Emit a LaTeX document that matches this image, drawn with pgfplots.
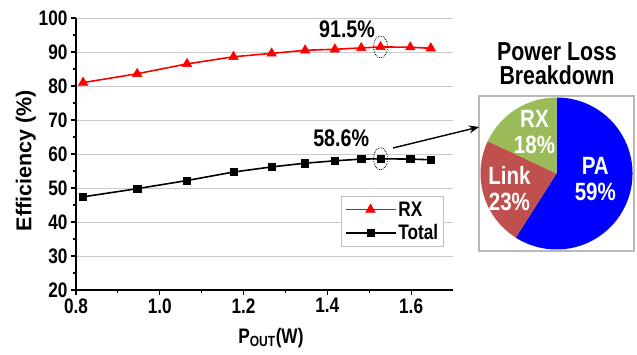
\documentclass[border=0pt]{standalone}
\usepackage{fontspec}
\setmainfont{Liberation Sans}[FakeStretch=0.82]
\newfontfamily\uprightsans{Liberation Sans}
\usepackage{pgfplots}
\pgfplotsset{compat=1.18}
\usetikzlibrary{arrows.meta}

\definecolor{paBlue}{RGB}{0,0,255}
\definecolor{linkRed}{RGB}{192,80,77}
\definecolor{rxGreen}{RGB}{155,187,89}

\newcommand\bigb{\fontsize{21pt}{24pt}\selectfont\bfseries}
\newcommand\noteb{\fontsize{24pt}{24pt}\selectfont\bfseries}
\newcommand\pieb{\fontsize{25pt}{26pt}\selectfont\bfseries}
\newcommand\titleb{\fontsize{26pt}{24pt}\selectfont\bfseries}

\begin{document}
\begin{tikzpicture}
% power-loss shares (percent) and the slice boundaries they give
\def\lossPA{59}
\def\lossLink{23}
\def\lossRX{18}
\pgfmathsetmacro{\aOne}{90-3.6*\lossPA}
\pgfmathsetmacro{\aTwo}{\aOne-3.6*\lossLink}
\pgfmathsetmacro{\aThree}{\aTwo-3.6*\lossRX}

\begin{axis}[
  at={(0pt,0pt)}, anchor=south west,
  scale only axis, width=377pt, height=272pt,
  xmin=0.8, xmax=1.7, ymin=20, ymax=100,
  xtick={0.8,1.0,1.2,1.4,1.6}, minor x tick num=1,
  ytick={20,30,...,100}, minor y tick num=1,
  axis x line*=bottom, axis y line*=left,
  x axis line style={-}, y axis line style={-},
  axis line style={black, line width=1.5pt},
  tick align=outside, major tick length=5pt, minor tick length=3pt,
  tick style={black, line width=1.2pt},
  ymajorgrids, grid style={gray!40, line width=0.9pt},
  /pgf/number format/assume math mode=true,
  ticklabel style={font=\bigb},
  xticklabel style={/pgf/number format/.cd, fixed, fixed zerofill, precision=1},
  yticklabel style={/pgf/number format/.cd, fixed, precision=0},
  xlabel={P\textsubscript{OUT}(W)},
  ylabel={Efficiency (\%)},
  every axis x label/.style={at={(axis description cs:0.517,-0.176)}, anchor=center, font=\bigb},
  every axis y label/.style={at={(axis description cs:-0.133,0.476)}, rotate=90, anchor=center,
    font=\uprightsans\fontsize{21.5pt}{24pt}\selectfont\bfseries},
  legend style={at={(0.975,0.345)}, anchor=north east, draw=gray!50, line width=0.8pt,
    font=\bigb, inner sep=3pt, row sep=3pt},
  legend cell align=left,
  legend image code/.code={\draw[mark repeat=2, mark phase=2, #1]
    plot coordinates {(0pt,0pt) (25pt,0pt) (50pt,0pt)};},
]
\draw[gray!45, line width=0.9pt] (rel axis cs:1,0) -- (rel axis cs:1,1);

\addplot[red, line width=1.6pt, mark=triangle*, mark size=5.5pt,
  mark options={fill=red, draw=red, line width=0.5pt}] coordinates {
  (0.817,81.0) (0.946,83.6) (1.065,86.5) (1.176,88.6) (1.267,89.6) (1.347,90.5)
  (1.418,90.8) (1.481,91.2) (1.527,91.5) (1.598,91.4) (1.647,91.1)};
\addlegendentry{RX}

\addplot[black, line width=1.6pt, mark=square*, mark size=3.6pt,
  mark options={fill=black, line width=0.5pt}] coordinates {
  (0.817,47.4) (0.946,49.8) (1.065,52.2) (1.176,54.7) (1.267,56.2) (1.347,57.3)
  (1.418,58.0) (1.481,58.5) (1.527,58.6) (1.598,58.5) (1.647,58.3)};
\addlegendentry{Total}

% peak-efficiency markers
\draw[densely dotted, line width=0.8pt] (axis cs:1.527,91.5) ellipse[x radius=7pt, y radius=11pt];
\draw[densely dotted, line width=0.8pt] (axis cs:1.527,58.6) ellipse[x radius=7pt, y radius=11pt];
\node[font=\noteb] at (axis cs:1.447,96.8) {91.5\%};
\node[font=\noteb] at (axis cs:1.433,64.6) {58.6\%};
\end{axis}

% loss breakdown pie
\begin{axis}[
  at={(403pt,39pt)}, anchor=south west,
  scale only axis, width=155.04pt, height=155.04pt,
  xmin=-1.02, xmax=1.02, ymin=-1.02, ymax=1.02,
  xtick=\empty, ytick=\empty,
  axis line style={gray!55, line width=1.3pt},
]
\fill[paBlue] (axis cs:0,0) -- (axis cs:{cos(90)},{sin(90)})
  arc[start angle=90, end angle=\aOne, radius=76pt] -- cycle;
\fill[linkRed] (axis cs:0,0) -- (axis cs:{cos(\aOne)},{sin(\aOne)})
  arc[start angle=\aOne, end angle=\aTwo, radius=76pt] -- cycle;
\fill[rxGreen] (axis cs:0,0) -- (axis cs:{cos(\aTwo)},{sin(\aTwo)})
  arc[start angle=\aTwo, end angle=\aThree, radius=76pt] -- cycle;
\node[white, align=center, font=\pieb] at (axis cs:0.51,-0.07) {PA\\\lossPA\%};
\node[white, align=center, font=\pieb] at (axis cs:-0.62,-0.20) {Link\\\lossLink\%};
\node[white, align=center, font=\pieb] at (axis cs:-0.29,0.54) {RX\\\lossRX\%};
\end{axis}

\node[align=center, font=\titleb] at (481pt,226pt) {Power Loss\\Breakdown};
\draw[-{Stealth[length=10pt,width=8pt]}, line width=1.4pt] (317pt,142pt) -- (403pt,163pt);

\pgfresetboundingbox
\path[use as bounding box] (-76pt,-64pt) rectangle (561pt,290pt);
\end{tikzpicture}
\end{document}
